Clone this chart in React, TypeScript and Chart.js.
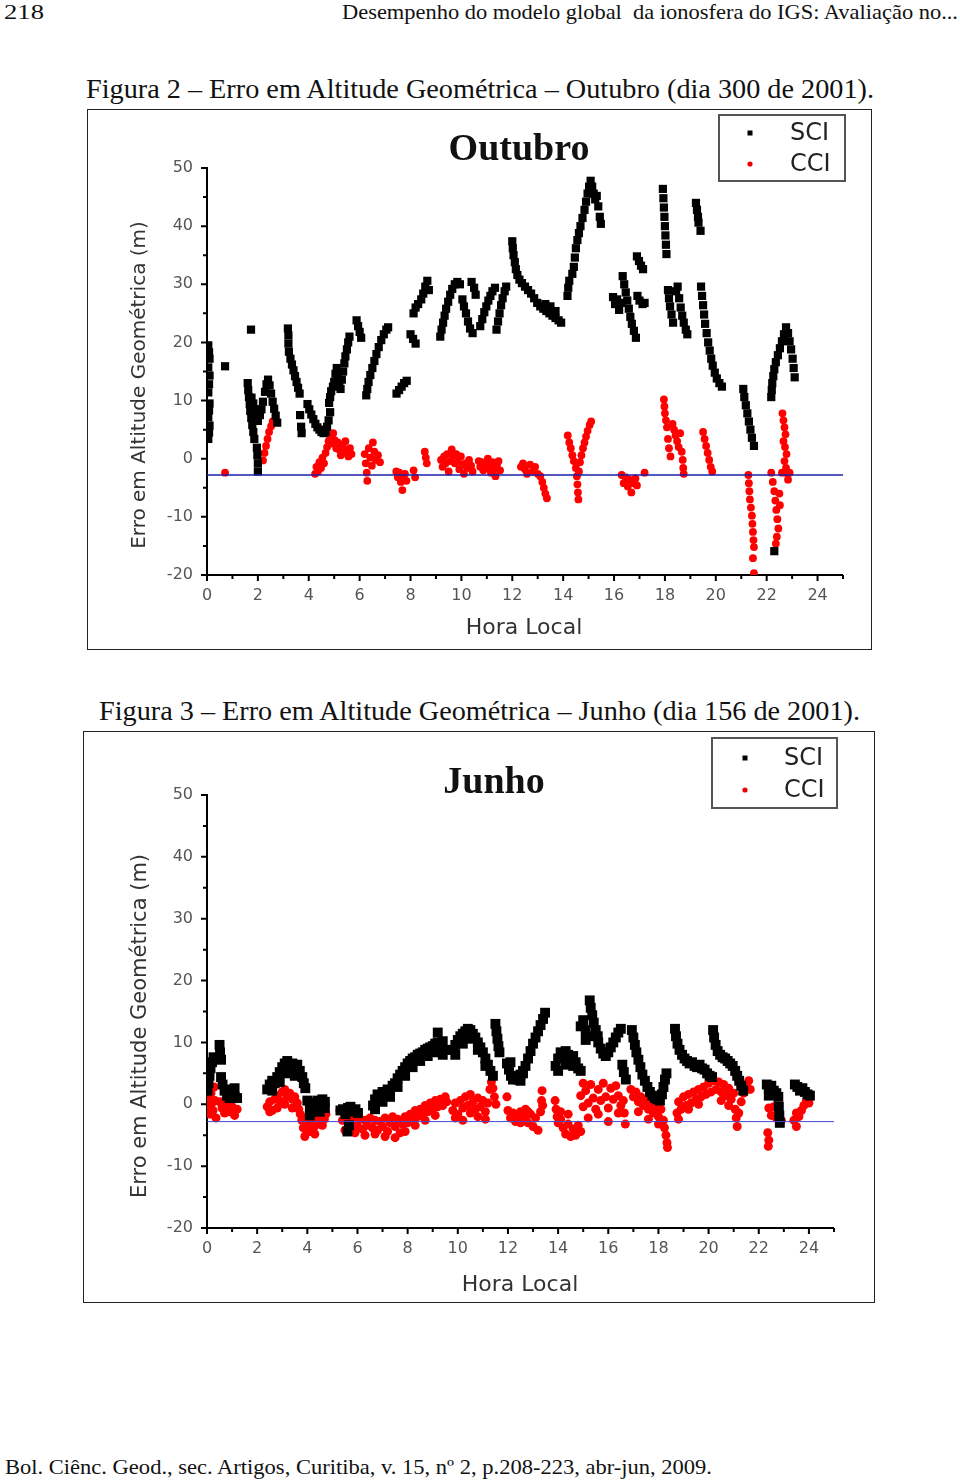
import React, { useEffect, useRef } from "react";
import { Chart, registerables } from "chart.js";

Chart.register(...registerables);

type P = [number, number];

// ---------- axis / tick data ----------
const xTickLabels: number[] = [0, 2, 4, 6, 8, 10, 12, 14, 16, 18, 20, 22, 24];
const yTickLabels: number[] = [-20, -10, 0, 10, 20, 30, 40, 50];
const X_MIN = 0;
const X_MAX = 25;
const Y_MIN = -20;
const Y_MAX = 50;
const REF_LINE = -2.8;

// ---------- Outubro (dia 300 de 2001) ----------
const outSCI: P[] = [
  [0.05, 19.5], [0.08, 18.3], [0.1, 17.2], [0.05, 15.7], [0.1, 14.3], [0.08, 12.8], [0.05, 11.4], [0.1, 9.5], [0.08, 8.3], [0.05, 7.1], [0.1, 5.7], [0.08, 4.5], [0.05, 3.4],
  [0.71, 15.9],
  [1.73, 22.2],
  [1.6, 13.0], [1.62, 11.8], [1.65, 10.6], [1.68, 9.4], [1.7, 8.2], [1.74, 7.0], [1.78, 5.8], [1.82, 4.6], [1.86, 3.4], [1.96, 1.9], [1.98, 0.6], [2.0, -0.8], [2.0, -2.2],
  [1.75, 10.5], [1.82, 9.5], [1.9, 8.5], [1.95, 7.2], [2.0, 6.5], [2.08, 7.5], [2.14, 8.5], [2.2, 9.8], [2.28, 11.5], [2.34, 12.8], [2.4, 13.6], [2.46, 12.6], [2.52, 11.2], [2.58, 9.8], [2.64, 8.6], [2.7, 7.4], [2.76, 6.2],
  [3.18, 22.4], [3.2, 21.2], [3.2, 19.8], [3.22, 18.4], [3.28, 17.2], [3.34, 16.2], [3.4, 15.2], [3.46, 14.2], [3.52, 13.2], [3.58, 12.2], [3.64, 11.2],
  [3.66, 7.5], [3.7, 5.5], [3.72, 4.4], [3.95, 9.4], [4.02, 8.5], [4.1, 7.6], [4.18, 6.8], [4.26, 6.0], [4.34, 5.4], [4.42, 5.0], [4.5, 4.6], [4.58, 4.4], [4.66, 4.6], [4.72, 5.5], [4.78, 6.6], [4.84, 8.0],
  [4.8, 9.6], [4.84, 10.6], [4.88, 11.6], [4.95, 12.4], [5.0, 13.2], [5.05, 14.6], [5.1, 15.6], [5.15, 14.2], [5.2, 13.0], [5.25, 12.0], [5.3, 13.6], [5.35, 15.0], [5.4, 16.4], [5.44, 17.6], [5.5, 18.8], [5.55, 20.0], [5.6, 21.0], [5.88, 23.8], [5.94, 22.8], [6.0, 21.8], [6.06, 20.8],
  [6.26, 10.9], [6.3, 12.0], [6.35, 13.2], [6.42, 14.4], [6.5, 15.6], [6.58, 16.8], [6.66, 18.0], [6.75, 19.2], [6.85, 20.4], [6.95, 21.4], [7.05, 22.2], [7.12, 22.6],
  [7.45, 11.2], [7.55, 11.8], [7.65, 12.4], [7.75, 13.0], [7.85, 13.4],
  [8.0, 21.4], [8.1, 20.6], [8.2, 19.8],
  [8.12, 25.0], [8.2, 26.0], [8.3, 26.6], [8.42, 27.4], [8.5, 28.4], [8.58, 29.6], [8.66, 30.6], [8.72, 29.0],
  [9.17, 21.0], [9.22, 22.2], [9.28, 23.4], [9.34, 24.6], [9.4, 25.8], [9.48, 27.0], [9.56, 28.2], [9.64, 29.2], [9.74, 30.0], [9.84, 30.4], [9.94, 30.0], [10.04, 27.4], [10.1, 26.2], [10.18, 25.0], [10.26, 23.6], [10.34, 22.4], [10.44, 21.6], [10.4, 30.4], [10.5, 29.4], [10.56, 28.2],
  [10.74, 22.8], [10.82, 24.0], [10.9, 25.2], [10.98, 26.2], [11.06, 27.2], [11.14, 28.0], [11.22, 28.8], [11.32, 29.4],
  [11.38, 22.2], [11.44, 23.6], [11.5, 25.0], [11.56, 26.4], [11.62, 27.6], [11.7, 28.8], [11.76, 29.6],
  [12.0, 37.4], [12.02, 36.2], [12.05, 35.0], [12.1, 33.8], [12.14, 32.6], [12.2, 31.6], [12.28, 30.8], [12.38, 30.2], [12.5, 29.6], [12.62, 29.0], [12.74, 28.4], [12.86, 27.6], [12.98, 26.8], [13.1, 26.2], [13.22, 25.8], [13.34, 25.4], [13.46, 25.0], [13.58, 24.6], [13.7, 24.2], [13.82, 23.8], [13.92, 23.4], [13.3, 26.6], [13.5, 26.2], [13.7, 25.4],
  [14.17, 28.0], [14.2, 29.4], [14.24, 30.6], [14.36, 31.8], [14.42, 33.0], [14.46, 34.6], [14.5, 36.2], [14.56, 37.6], [14.62, 38.8], [14.68, 40.0], [14.76, 41.4], [14.84, 42.8], [14.9, 44.2], [14.96, 45.6], [15.02, 46.8], [15.08, 47.8], [15.14, 46.8], [15.2, 45.6], [15.26, 44.6], [15.32, 45.2], [15.38, 43.4], [15.44, 41.6], [15.48, 40.4],
  [15.96, 27.8], [16.04, 26.6], [16.12, 27.4], [16.2, 25.6], [16.3, 26.8], [16.34, 31.4], [16.4, 30.0], [16.46, 28.6], [16.52, 27.2], [16.58, 25.8], [16.64, 24.4], [16.7, 23.2], [16.78, 22.0], [16.86, 20.8], [16.9, 34.8], [16.98, 34.0], [17.06, 33.2], [17.14, 32.6], [16.92, 28.0], [17.0, 27.2], [17.12, 26.6], [17.2, 26.8],
  [17.92, 46.4], [17.94, 44.8], [17.96, 43.2], [17.98, 41.6], [18.0, 40.0], [18.02, 38.4], [18.04, 36.8], [18.06, 35.2],
  [19.22, 44.0], [19.26, 42.8], [19.3, 41.6], [19.32, 40.6], [19.4, 39.2],
  [18.12, 29.0], [18.16, 27.6], [18.2, 26.2], [18.26, 24.8], [18.32, 23.4], [18.44, 28.8], [18.5, 29.6], [18.56, 27.6], [18.62, 26.0], [18.68, 24.6], [18.74, 23.4], [18.82, 22.2], [18.88, 21.4],
  [19.42, 29.6], [19.46, 28.0], [19.5, 26.4], [19.54, 24.8], [19.58, 23.2], [19.64, 21.6], [19.7, 20.0], [19.76, 18.6], [19.82, 17.2], [19.88, 16.0], [19.96, 14.8], [20.04, 13.8], [20.14, 13.0], [20.24, 12.4],
  [21.08, 12.0], [21.12, 10.6], [21.18, 9.2], [21.24, 7.8], [21.3, 6.4], [21.36, 5.0], [21.42, 3.6], [21.5, 2.2],
  [22.18, 10.6], [22.2, 11.8], [22.22, 13.0], [22.26, 14.2], [22.3, 15.4], [22.36, 16.6], [22.44, 17.8], [22.52, 19.0], [22.6, 20.2], [22.68, 21.4], [22.76, 22.6], [22.84, 21.6], [22.9, 20.2], [22.96, 18.8], [23.02, 17.2], [23.06, 15.6], [23.1, 14.0],
  [22.3, -15.9],
];

const outCCI: P[] = [
  [0.71, -2.4],
  [2.2, -0.3], [2.26, 1.0], [2.32, 2.2], [2.38, 3.4], [2.44, 4.6], [2.52, 5.6], [2.58, 6.4],
  [4.25, -2.6], [4.3, -1.4], [4.36, -2.2], [4.42, -0.6], [4.48, -1.6], [4.54, 0.2], [4.6, -0.8], [4.66, 1.0], [4.72, 2.0], [4.78, 3.0], [4.84, 4.0], [4.9, 2.6], [4.96, 4.4], [5.02, 3.2], [5.08, 1.8], [5.14, 2.8], [5.2, 1.6], [5.26, 0.6], [5.32, 2.4], [5.38, 1.0], [5.44, 3.0], [5.5, 1.6], [5.56, 0.4], [5.62, 1.8], [5.68, 0.8],
  [6.2, 0.8], [6.24, -0.8], [6.28, -2.4], [6.3, -3.8], [6.36, 1.8], [6.42, 0.2], [6.48, -1.2], [6.52, 2.8], [6.58, 1.2], [6.64, -0.2], [6.72, 0.6], [6.8, -0.6],
  [7.44, -2.2], [7.5, -3.2], [7.56, -2.4], [7.62, -4.0], [7.68, -5.4], [7.72, -3.4], [7.78, -2.6], [7.84, -3.8],
  [8.12, -2.0], [8.18, -3.2],
  [8.56, 1.2], [8.6, 0.2], [8.64, -0.8],
  [9.2, -0.2], [9.26, -1.4], [9.32, 0.4], [9.38, -0.8], [9.44, 0.8], [9.5, -2.2], [9.56, -0.4], [9.62, 1.6], [9.68, 0.6], [9.74, -0.8], [9.8, 0.8], [9.86, -0.4], [9.92, -1.8], [9.98, 0.4], [10.04, -1.0], [10.1, -2.6], [10.16, -0.8], [10.22, -1.6], [10.3, -0.2], [10.38, -1.2], [10.44, -2.2],
  [10.68, -0.4], [10.74, -1.4], [10.8, -0.6], [10.86, -2.0], [10.92, -0.8], [10.98, -1.6], [11.04, 0.0], [11.1, -1.2], [11.16, -2.4], [11.22, -0.6], [11.28, -1.8], [11.34, -3.0], [11.4, -1.0], [11.46, -0.4], [11.52, -2.0],
  [12.34, -1.4], [12.42, -0.8], [12.5, -1.8], [12.58, -2.6], [12.7, -1.0], [12.8, -2.2], [12.9, -1.4], [13.0, -2.6], [13.1, -3.0], [13.18, -4.0], [13.24, -5.0], [13.3, -6.0], [13.36, -6.8],
  [14.18, 4.0], [14.24, 2.8], [14.3, 1.8], [14.36, 0.6], [14.42, -0.4], [14.5, -1.6], [14.54, -3.0], [14.56, -4.4], [14.58, -5.8], [14.6, -7.0], [14.62, -2.2], [14.66, -0.6], [14.72, 0.6], [14.78, 1.8], [14.84, 2.8], [14.9, 3.8], [14.96, 4.8], [15.04, 5.8], [15.1, 6.4],
  [16.3, -2.8], [16.38, -4.2], [16.46, -3.2], [16.54, -4.8], [16.6, -3.6], [16.68, -5.8], [16.76, -4.2], [16.84, -3.4], [16.9, -4.6], [17.2, -2.4],
  [17.96, 10.2], [17.98, 9.0], [18.0, 7.8], [18.04, 6.6], [18.08, 5.4], [18.12, 3.4], [18.16, 1.8], [18.22, 0.4], [18.3, 6.0], [18.36, 5.0], [18.42, 4.0], [18.48, 3.0], [18.54, 2.0], [18.6, 4.4], [18.66, 1.2], [18.7, -0.2], [18.72, -1.6], [18.74, -2.6],
  [19.5, 4.6], [19.56, 3.4], [19.62, 2.2], [19.68, 1.0], [19.74, -0.2], [19.8, -1.4], [19.86, -2.2],
  [21.28, -2.8], [21.3, -4.2], [21.32, -5.6], [21.34, -7.0], [21.38, -8.4], [21.42, -9.8], [21.44, -11.2], [21.46, -12.6], [21.48, -14.0], [21.5, -15.2], [21.46, -17.1], [21.5, -19.7],
  [22.18, -2.4], [22.24, -4.0], [22.3, -5.6], [22.34, -7.2], [22.38, -8.8], [22.42, -10.4], [22.46, -12.0], [22.4, -13.4], [22.36, -14.6], [22.5, -6.0], [22.52, -8.0],
  [22.62, 7.8], [22.66, 6.6], [22.7, 5.4], [22.74, 4.2], [22.66, 3.0], [22.72, 2.0], [22.78, 0.8], [22.7, -0.4], [22.76, -1.6], [22.82, -2.6], [22.84, -3.6], [22.6, -2.4], [22.9, -2.4],
];

// ---------- Junho (dia 156 de 2001) ----------
const junSCI: P[] = [
  [0.02, 2.2], [0.06, 3.4], [0.1, 4.6], [0.14, 5.8], [0.2, 6.8], [0.26, 7.6],
  [0.5, 9.6], [0.52, 8.4], [0.56, 7.2],
  [0.56, 4.4], [0.62, 3.2], [0.7, 2.2], [0.8, 1.4], [0.9, 1.0], [1.0, 1.6], [1.1, 1.2], [1.2, 1.0], [0.9, 2.4], [1.1, 2.6],
  [2.4, 2.4], [2.5, 3.2], [2.6, 3.8], [2.7, 3.4], [2.8, 4.4], [2.9, 5.2], [3.0, 6.0], [3.1, 6.6], [3.2, 7.0], [3.3, 6.2], [3.4, 6.6], [3.5, 5.8], [3.6, 6.4], [3.7, 5.4], [3.8, 4.4], [3.86, 3.4], [3.92, 2.6], [2.6, 2.2], [2.9, 3.6], [3.2, 5.0], [3.5, 4.6],
  [4.0, 0.6], [4.1, -0.4], [4.2, -1.2], [4.3, 0.2], [4.4, 0.6], [4.5, 0.0], [4.6, 0.8], [4.7, 0.4], [4.1, -1.8], [4.3, -1.0], [4.5, -1.2], [4.7, -0.6],
  [5.32, -1.0], [5.42, -0.8], [5.52, -1.6], [5.62, -0.6], [5.72, -0.4], [5.82, -1.2], [5.92, -0.8], [6.02, -1.4], [5.6, -4.4], [5.66, -3.4],
  [6.62, -0.2], [6.7, 0.8], [6.8, 1.6], [6.9, 1.2], [7.0, 2.0], [7.1, 1.6], [7.2, 2.4], [7.3, 2.2], [7.4, 3.0], [7.5, 3.4], [7.6, 4.2], [7.7, 4.8], [7.8, 5.4], [7.9, 6.0], [8.0, 6.6], [8.1, 7.0], [8.2, 7.4], [8.3, 7.6], [8.4, 8.0], [8.5, 8.2], [8.6, 8.4], [8.7, 8.8], [8.8, 9.0], [8.9, 9.2], [9.0, 9.4], [9.1, 9.8], [9.2, 10.0], [9.3, 9.4], [9.4, 10.2], [9.5, 8.8], [9.2, 11.6],
  [6.7, -0.8], [7.0, 0.4], [7.3, 1.2], [7.6, 2.8], [7.9, 4.6], [8.2, 6.0], [8.5, 7.0], [8.8, 7.8], [9.1, 8.4], [9.4, 8.0],
  [9.8, 8.8], [9.9, 9.6], [10.0, 10.4], [10.1, 11.0], [10.2, 11.4], [10.3, 11.8], [10.4, 12.2], [10.5, 12.0], [10.6, 11.4], [10.7, 10.8], [10.8, 10.0], [10.9, 9.2], [11.0, 8.4], [11.1, 7.4], [11.2, 6.4], [11.3, 5.4], [11.4, 4.6],
  [9.9, 8.0], [10.2, 9.8], [10.5, 10.6], [10.8, 8.8], [11.1, 6.2], [11.5, 13.0], [11.54, 11.8], [11.58, 10.6], [11.62, 9.4], [11.66, 8.4],
  [11.96, 6.6], [12.04, 5.6], [12.12, 4.6], [12.2, 4.0], [12.3, 4.4], [12.4, 4.0], [12.5, 4.8], [12.6, 5.4], [12.1, 6.8],
  [12.5, 3.8], [12.6, 5.0], [12.7, 6.2], [12.8, 7.4], [12.9, 8.6], [13.0, 9.8], [13.1, 10.8], [13.2, 11.8], [13.3, 12.8], [13.4, 13.8], [13.48, 14.8],
  [13.9, 6.2], [14.0, 7.4], [14.1, 8.4], [14.2, 7.8], [14.3, 8.6], [14.4, 8.0], [14.5, 7.2], [14.6, 7.8], [14.7, 6.8], [14.8, 5.8], [14.9, 5.4], [14.0, 5.4], [14.3, 6.4], [14.6, 6.2],
  [14.9, 12.6], [15.0, 13.6], [15.1, 12.0], [15.2, 11.0], [15.26, 16.8], [15.3, 15.6], [15.36, 14.4], [15.42, 13.2], [15.5, 12.0], [15.58, 11.0], [15.1, 10.4],
  [15.6, 10.0], [15.7, 9.0], [15.8, 8.2], [15.9, 7.8], [16.0, 8.4], [16.1, 9.2], [16.2, 10.0], [16.3, 10.8], [16.4, 11.6], [16.5, 12.2],
  [16.56, 6.4], [16.62, 5.2], [16.7, 4.0],
  [16.94, 12.0], [17.0, 10.8], [17.06, 9.6], [17.12, 8.4], [17.2, 7.2], [17.28, 6.0], [17.36, 4.8], [17.46, 3.8], [17.56, 2.8], [17.66, 2.0], [17.76, 1.4], [17.86, 1.0], [17.96, 0.8], [18.06, 0.6], [18.14, 1.6], [18.2, 2.8], [18.26, 4.0], [18.32, 5.0],
  [18.66, 12.2], [18.7, 11.0], [18.76, 9.8], [18.84, 8.8], [18.94, 8.0], [19.04, 7.4], [19.14, 7.0], [19.24, 6.6], [19.34, 6.8], [19.44, 6.2], [19.54, 6.0], [19.64, 6.4], [19.74, 5.8], [19.84, 5.6], [19.94, 5.0], [20.04, 4.6], [20.14, 4.4],
  [20.18, 12.0], [20.22, 10.8], [20.28, 9.6], [20.36, 8.6], [20.46, 8.0], [20.56, 7.6], [20.66, 7.4], [20.76, 7.0], [20.86, 6.6], [20.96, 6.2], [21.06, 5.4], [21.14, 4.6], [21.22, 3.8], [21.3, 3.0], [21.38, 2.2],
  [22.32, 3.2], [22.4, 2.6], [22.5, 3.0], [22.6, 2.2], [22.7, 1.8], [22.78, 1.2], [22.8, -0.4], [22.82, -1.8], [22.84, -3.0], [22.4, 1.4],
  [23.44, 3.2], [23.54, 2.8], [23.64, 2.2], [23.74, 2.6], [23.84, 2.0], [23.94, 1.6], [24.04, 1.4],
];

const junCCI: P[] = [
  [0.04, -0.4], [0.08, 0.8], [0.12, -1.6], [0.16, 1.8], [0.2, 0.2], [0.24, -1.0], [0.28, 2.8], [0.32, 0.6], [0.36, -2.2],
  [0.5, 0.4], [0.6, -0.6], [0.7, -1.4], [0.8, -0.2], [0.9, -1.2], [1.0, -0.4], [1.1, -1.8], [1.2, -0.8], [0.7, 0.6], [1.0, 0.8],
  [2.4, -0.4], [2.5, 0.4], [2.6, -1.0], [2.7, 0.8], [2.8, 1.4], [2.9, 0.6], [3.0, 2.0], [3.1, 2.4], [3.2, 1.2], [3.3, 1.8], [3.4, 0.8], [3.5, 1.2], [3.6, 0.2], [3.66, -0.8], [3.72, -1.6], [3.78, -2.6], [2.5, -1.2], [2.8, -0.6], [3.1, 0.0], [3.4, -0.6],
  [3.84, -3.8], [3.9, -5.2], [3.96, -4.2], [4.04, -3.0], [4.12, -4.4], [4.2, -2.6], [4.28, -3.6], [4.36, -2.2], [4.44, -3.2], [4.52, -2.0], [4.6, -3.4], [4.68, -2.4], [4.74, -1.6], [4.0, -2.0], [4.3, -4.8],
  [5.3, -1.0], [5.4, -2.6], [5.5, -1.6], [5.6, -3.0], [5.7, -2.0], [5.8, -3.4], [5.9, -2.2], [6.0, -3.6], [6.1, -2.4], [6.2, -4.0], [6.3, -2.6], [6.4, -3.4], [6.5, -2.2], [6.6, -3.8], [6.7, -2.6], [6.8, -4.2], [6.9, -2.8], [7.0, -3.6], [7.1, -2.2], [7.2, -4.4], [7.3, -3.0], [7.4, -2.0], [7.5, -3.6], [7.6, -2.4], [7.7, -4.6], [7.8, -3.2], [7.9, -2.0], [8.0, -3.0], [8.1, -1.6], [8.2, -2.6], [8.3, -1.0], [8.4, -2.0], [8.5, -0.8], [8.6, -1.6], [8.7, -0.2], [8.8, -1.2], [8.9, 0.2], [9.0, -0.8], [9.1, 0.6], [9.2, -0.4], [9.3, 0.8], [9.4, -0.2], [9.5, 1.2], [9.56, 0.4],
  [5.5, -4.2], [5.9, -4.6], [6.3, -5.0], [6.7, -4.8], [7.1, -5.2], [7.5, -5.4], [7.9, -4.4], [8.3, -3.4], [8.7, -2.6], [9.1, -1.8],
  [9.8, -1.0], [9.9, 0.2], [10.0, -1.6], [10.1, 0.6], [10.2, -0.6], [10.3, 1.2], [10.4, -0.2], [10.5, 1.6], [10.6, 0.4], [10.7, -0.8], [10.8, 1.0], [10.9, -0.4], [11.0, 0.6], [11.1, -1.2], [11.2, 0.2], [11.28, 2.4], [11.34, 3.6], [11.4, 2.6], [11.46, 1.2], [11.52, 0.0], [9.9, -2.2], [10.2, -2.6], [10.5, -1.4], [10.8, -2.0], [11.1, -2.4],
  [11.96, 1.2], [12.0, -1.0], [12.1, -2.2], [12.2, -1.4], [12.3, -2.8], [12.4, -1.8], [12.5, -3.0], [12.6, -2.0], [12.7, -2.6], [12.8, -1.2],
  [12.5, -1.2], [12.6, -2.4], [12.7, -0.8], [12.8, -3.0], [12.9, -1.6], [13.0, -3.6], [13.1, -2.2], [13.2, -4.2], [13.3, -1.2], [13.34, 0.6], [13.36, 2.2], [13.38, -0.2],
  [13.88, 0.6], [13.92, -0.8], [13.96, -2.0], [14.0, -3.0], [14.1, -2.4], [14.2, -3.8], [14.3, -4.8], [14.4, -3.2], [14.5, -5.2], [14.6, -4.0], [14.7, -5.0], [14.8, -3.4], [14.9, -4.4], [14.1, -1.2], [14.4, -1.6],
  [14.9, 1.4], [15.0, -0.4], [15.1, 2.2], [15.2, 0.2], [15.3, 3.2], [15.4, 1.0], [15.5, -0.8], [15.6, 2.4], [15.7, 0.6], [15.8, 3.4], [15.9, 1.2], [16.0, -0.6], [16.1, 2.6], [16.2, 0.8], [16.3, 3.0], [16.4, 1.4], [16.5, -0.2], [15.2, -2.2], [15.6, -1.6], [16.0, -2.8], [16.4, -1.4], [15.0, 3.4],
  [16.6, 0.6], [16.64, -1.4], [16.68, -3.2], [16.9, 2.4], [17.0, 1.2], [17.1, 2.0], [17.2, 0.4], [17.3, 1.2], [17.4, -0.2], [17.5, 0.8], [17.6, -0.8], [17.7, 0.0], [17.8, -1.4], [17.9, -0.4], [18.0, -2.0], [18.1, -0.8], [18.2, -2.6], [18.24, -3.8], [18.3, -5.0], [18.34, -6.2], [18.36, -7.0], [17.2, -1.2], [17.6, -2.4], [18.0, -3.2],
  [18.74, -1.4], [18.8, 0.4], [18.9, -0.8], [19.0, 1.2], [19.1, -0.2], [19.2, 1.6], [19.3, 0.2], [19.4, 2.0], [19.5, 0.8], [19.6, 2.4], [19.7, 1.2], [19.8, 2.8], [19.9, 1.6], [20.0, 3.4], [20.1, 2.0], [18.8, -2.4], [19.2, -0.8], [19.6, 0.0],
  [20.2, 3.8], [20.3, 2.4], [20.4, 3.6], [20.5, 2.0], [20.6, 3.2], [20.7, 1.4], [20.8, 2.6], [20.9, 0.8], [21.0, 1.8], [21.06, -0.8], [21.1, -2.2], [21.14, -3.6], [21.2, -1.4], [21.3, 0.4], [21.4, 1.8], [21.5, 2.8], [21.6, 3.8], [21.66, 2.4], [20.5, 0.6], [20.8, -0.2],
  [22.4, -0.6], [22.5, -1.8], [22.6, -0.4], [22.7, -2.2], [22.8, -1.0], [22.9, -2.6], [22.36, -4.6], [22.4, -5.8], [22.38, -6.8],
  [23.4, -2.6], [23.5, -3.6], [23.6, -2.0], [23.7, -1.0], [23.8, -0.2], [23.9, 0.6], [24.0, 0.2], [23.5, -1.4],
];

// ---------- chart geometry ----------
interface Geo {
  title: string;
  w: number;
  h: number;
  pad: { left: number; right: number; top: number; bottom: number };
  titlePos: [number, number];
  yTitlePos: [number, number];
  xTitlePos: [number, number];
  yTitleSize: number;
  legend: { x: number; y: number; w: number; h: number; mx: number; tx: number; y1: number; y2: number };
  sciR: number;
  cciR: number;
  lineColor: string;
  lineWidth: number;
}

const geoOut: Geo = {
  title: "Outubro",
  w: 783,
  h: 539,
  pad: { left: 59, right: 28, top: 58, bottom: 44 },
  titlePos: [431, 40],
  yTitlePos: [52, 275],
  xTitlePos: [436, 518],
  yTitleSize: 20,
  legend: { x: 631, y: 5, w: 126, h: 66, mx: 662, tx: 702, y1: 23, y2: 54 },
  sciR: 5.8,
  cciR: 3.9,
  lineColor: "rgb(30,30,170)",
  lineWidth: 1.6,
};

const geoJun: Geo = {
  title: "Junho",
  w: 790,
  h: 570,
  pad: { left: 63, right: 40, top: 63, bottom: 44 },
  titlePos: [410, 51],
  yTitlePos: [57, 294],
  xTitlePos: [436, 553],
  yTitleSize: 21,
  legend: { x: 628, y: 6, w: 125, h: 70, mx: 661, tx: 700, y1: 26, y2: 58 },
  sciR: 7,
  cciR: 4.5,
  lineColor: "rgb(70,70,210)",
  lineWidth: 1,
};

function decorPlugin(g: Geo) {
  return {
    id: "decor",
    beforeDatasetsDraw(chart: any) {
      const { ctx, chartArea: a, scales } = chart;
      const x = scales.x;
      const y = scales.y;
      ctx.save();
      ctx.strokeStyle = "#000";
      ctx.lineWidth = 2;
      ctx.beginPath();
      ctx.moveTo(a.left, a.top - 1);
      ctx.lineTo(a.left, a.bottom);
      ctx.lineTo(a.right, a.bottom);
      for (let v = X_MIN; v <= X_MAX; v++) {
        const px = x.getPixelForValue(v);
        const len = v % 2 === 0 ? 6 : 4;
        ctx.moveTo(px, a.bottom);
        ctx.lineTo(px, a.bottom + len);
      }
      for (let v = Y_MIN; v <= Y_MAX; v += 5) {
        const py = y.getPixelForValue(v);
        const len = v % 10 === 0 ? 6 : 4;
        ctx.moveTo(a.left, py);
        ctx.lineTo(a.left - len, py);
      }
      ctx.stroke();
      ctx.restore();
    },
    afterDraw(chart: any) {
      const { ctx } = chart;
      ctx.save();
      // title
      ctx.fillStyle = "#111";
      ctx.font = 'bold 38px "Liberation Serif", serif';
      ctx.textAlign = "center";
      ctx.textBaseline = "middle";
      ctx.fillText(g.title, g.titlePos[0], g.titlePos[1]);
      // axis titles
      ctx.fillStyle = "#333";
      ctx.font = '22px "DejaVu Sans", sans-serif';
      ctx.fillText("Hora Local", g.xTitlePos[0], g.xTitlePos[1]);
      ctx.save();
      ctx.translate(g.yTitlePos[0], g.yTitlePos[1]);
      ctx.rotate(-Math.PI / 2);
      ctx.font = `${g.yTitleSize}px "DejaVu Sans", sans-serif`;
      ctx.fillText("Erro em Altitude Geométrica (m)", 0, 0);
      ctx.restore();
      // legend
      const L = g.legend;
      ctx.fillStyle = "#fff";
      ctx.fillRect(L.x, L.y, L.w, L.h);
      ctx.strokeStyle = "#555";
      ctx.lineWidth = 2;
      ctx.strokeRect(L.x, L.y, L.w, L.h);
      ctx.fillStyle = "#000";
      ctx.fillRect(L.mx - 2.5, L.y1 - 2.5, 5, 5);
      ctx.fillStyle = "#e00";
      ctx.beginPath();
      ctx.arc(L.mx, L.y2, 2.6, 0, Math.PI * 2);
      ctx.fill();
      ctx.fillStyle = "#222";
      ctx.font = '24px "DejaVu Sans", sans-serif';
      ctx.textAlign = "left";
      ctx.fillText("SCI", L.tx, L.y1 + 1);
      ctx.fillText("CCI", L.tx, L.y2 + 1);
      ctx.restore();
    },
  };
}

function ScatterPanel({ geo, sci, cci }: { geo: Geo; sci: P[]; cci: P[] }) {
  const ref = useRef<HTMLCanvasElement | null>(null);
  useEffect(() => {
    if (!ref.current) return;
    const tickFont = { family: "DejaVu Sans", size: 16 };
    const chart = new Chart(ref.current, {
      type: "scatter",
      data: {
        datasets: [
          {
            label: "ref",
            data: [
              { x: X_MIN, y: REF_LINE },
              { x: X_MAX, y: REF_LINE },
            ],
            showLine: true,
            borderColor: geo.lineColor,
            borderWidth: geo.lineWidth,
            pointRadius: 0,
          } as any,
          {
            label: "SCI",
            data: sci.map(([x, y]) => ({ x, y })),
            pointStyle: "rect",
            pointRadius: geo.sciR,
            backgroundColor: "#000",
            borderWidth: 0,
          },
          {
            label: "CCI",
            data: cci.map(([x, y]) => ({ x, y })),
            pointStyle: "circle",
            pointRadius: geo.cciR,
            backgroundColor: "#f00",
            borderWidth: 0,
          },
        ],
      },
      options: {
        responsive: false,
        animation: false,
        layout: { padding: geo.pad },
        plugins: { legend: { display: false }, tooltip: { enabled: false }, title: { display: false } },
        scales: {
          x: {
            type: "linear",
            min: X_MIN,
            max: X_MAX,
            afterFit: (s: any) => {
              s.height = 30;
            },
            grid: { display: false, drawTicks: false },
            border: { display: false },
            ticks: {
              stepSize: 1,
              autoSkip: false,
              maxRotation: 0,
              padding: 11,
              color: "#555",
              font: tickFont,
              callback: (v: any) => (xTickLabels.includes(Number(v)) ? String(v) : ""),
            },
          },
          y: {
            type: "linear",
            min: Y_MIN,
            max: Y_MAX,
            afterFit: (s: any) => {
              s.width = 60;
            },
            grid: { display: false, drawTicks: false },
            border: { display: false },
            ticks: {
              stepSize: 5,
              autoSkip: false,
              padding: 14,
              color: "#555",
              font: tickFont,
              callback: (v: any) => (yTickLabels.includes(Number(v)) ? String(v) : ""),
            },
          },
        },
      } as any,
      plugins: [decorPlugin(geo)],
    });
    return () => chart.destroy();
  }, [geo, sci, cci]);
  return <canvas ref={ref} width={geo.w} height={geo.h} style={{ display: "block" }} />;
}

const serif = '"Liberation Serif", "Times New Roman", serif';

export default function App() {
  return (
    <div style={{ position: "absolute", left: 0, top: 0, width: 960, height: 1483, background: "#fff", overflow: "hidden" }}>
      <svg width={960} height={1483} style={{ position: "absolute", left: 0, top: 0 }}>
        <text x={4} y={19} fontFamily={serif} fontSize={20} textLength={40} lengthAdjust="spacingAndGlyphs" fill="#111">
          218
        </text>
        <text x={342} y={19} fontFamily={serif} fontSize={21} textLength={616} lengthAdjust="spacingAndGlyphs" fill="#111" style={{ whiteSpace: "pre" }}>
          Desempenho do modelo global  da ionosfera do IGS: Avaliação no...
        </text>
        <text x={86} y={98} fontFamily={serif} fontSize={28} textLength={788} lengthAdjust="spacingAndGlyphs" fill="#111">
          Figura 2 – Erro em Altitude Geométrica – Outubro (dia 300 de 2001).
        </text>
        <text x={99} y={720} fontFamily={serif} fontSize={28} textLength={761} lengthAdjust="spacingAndGlyphs" fill="#111">
          Figura 3 – Erro em Altitude Geométrica – Junho (dia 156 de 2001).
        </text>
        <text x={5} y={1474} fontFamily={serif} fontSize={21} textLength={707} lengthAdjust="spacingAndGlyphs" fill="#111">
          Bol. Ciênc. Geod., sec. Artigos, Curitiba, v. 15, nº 2, p.208-223, abr-jun, 2009.
        </text>
      </svg>
      <div style={{ position: "absolute", left: 87, top: 109, width: 785, height: 541, border: "1px solid #222", boxSizing: "border-box", background: "#fff" }}>
        <ScatterPanel geo={geoOut} sci={outSCI} cci={outCCI} />
      </div>
      <div style={{ position: "absolute", left: 83, top: 731, width: 792, height: 572, border: "1px solid #222", boxSizing: "border-box", background: "#fff" }}>
        <ScatterPanel geo={geoJun} sci={junSCI} cci={junCCI} />
      </div>
    </div>
  );
}
